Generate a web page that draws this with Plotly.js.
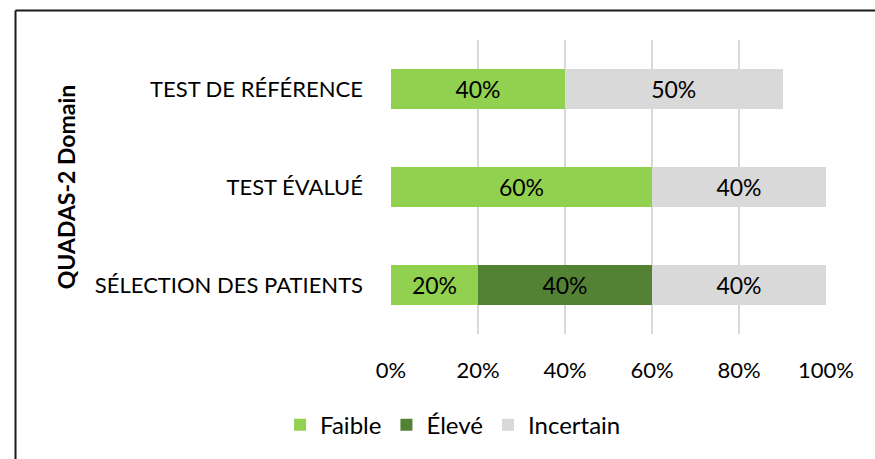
<!DOCTYPE html>
<html>
<head>
<meta charset="utf-8">
<script src="https://cdn.plot.ly/plotly-3.0.1.min.js"></script>
<style>
  html, body { margin: 0; padding: 0; background: #fff; }
  #chart { width: 875px; height: 459px; }
</style>
</head>
<body>
<div id="chart"></div>
<script>
const categories = ['SÉLECTION DES PATIENTS', 'TEST ÉVALUÉ', 'TEST DE RÉFÉRENCE'];
const faible = [20, 60, 40];
const eleve = [40, 0, 0];
const incertain = [40, 40, 50];
const seriesNames = ['Faible', 'Élevé', 'Incertain'];
const seriesColors = ['#92D050', '#548235', '#D9D9D9'];
const tickVals = [0, 20, 40, 60, 80, 100];
const tickText = ['0%', '20%', '40%', '60%', '80%', '100%'];

const FONT = 'Lato, "Open Sans", sans-serif';

function mk(values, i) {
  return {
    type: 'bar',
    orientation: 'h',
    y: categories,
    x: values,
    name: seriesNames[i],
    marker: { color: seriesColors[i], line: { width: 0 } },
    text: values.map(v => v ? v + '%' : ''),
    textposition: 'inside',
    insidetextanchor: 'middle',
    constraintext: 'none',
    textfont: { family: FONT, size: 23, color: '#000' },
    hoverinfo: 'x+y+name'
  };
}

const data = [mk(faible, 0), mk(eleve, 1), mk(incertain, 2)];

const layout = {
  width: 875,
  height: 459,
  barmode: 'stack',
  bargap: 0.6,
  paper_bgcolor: '#fff',
  plot_bgcolor: '#fff',
  margin: { l: 391, r: 49, t: 40, b: 125 },
  font: { family: FONT, size: 22, color: '#000' },
  xaxis: {
    range: [0, 100],
    tickvals: tickVals,
    ticktext: tickText,
    showgrid: true,
    gridcolor: '#D9D9D9',
    gridwidth: 1.5,
    zeroline: false,
    showline: false,
    ticks: '',
    ticklabelstandoff: 21,
    tickfont: { family: FONT, size: 22, color: '#000' },
    fixedrange: true
  },
  yaxis: {
    type: 'category',
    categoryorder: 'array',
    categoryarray: categories,
    range: [-0.5, 2.5],
    showgrid: false,
    zeroline: false,
    showline: false,
    ticks: '',
    ticklabelstandoff: 27,
    tickfont: { family: FONT, size: 22, color: '#000' },
    automargin: true,
    title: { text: 'QUADAS-2 Domain', standoff: 12, font: { family: FONT, size: 23, color: '#000', weight: 'bold' } },
    fixedrange: true
  },
  showlegend: true,
  legend: {
    orientation: 'h',
    x: -0.255,
    xanchor: 'left',
    y: -0.31,
    yanchor: 'middle',
    font: { family: FONT, size: 24, color: '#000' },
    traceorder: 'normal',
    bgcolor: 'rgba(0,0,0,0)'
  },
  shapes: [
    { type: 'line', xref: 'paper', yref: 'paper', x0: -0.8632, x1: 1.2, y0: 1.1003, y1: 1.1003, line: { color: '#1a1a1a', width: 2 } },
    { type: 'line', xref: 'paper', yref: 'paper', x0: -0.8632, x1: -0.8632, y0: 1.1003, y1: -0.5, line: { color: '#1a1a1a', width: 2 } }
  ]
};

Plotly.newPlot('chart', data, layout, { displayModeBar: false, staticPlot: true });
</script>
</body>
</html>
